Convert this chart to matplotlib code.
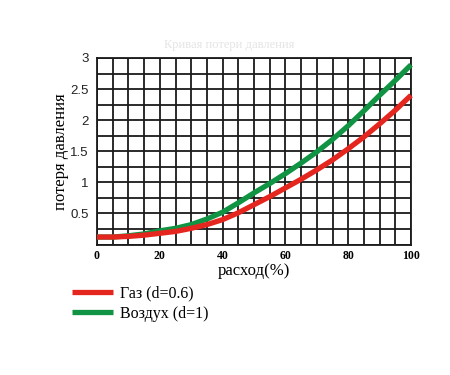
import matplotlib
matplotlib.use("Agg")
import matplotlib.pyplot as plt
from matplotlib.ticker import MultipleLocator, FixedLocator

flow = [0, 5, 10, 15, 20, 25, 30, 35, 40, 45, 50, 55, 60, 65, 70, 75, 80, 85, 90, 95, 100]
gas = [0.12, 0.12, 0.13, 0.15, 0.18, 0.21, 0.26, 0.32, 0.40, 0.51, 0.64, 0.77, 0.91, 1.05,
       1.20, 1.36, 1.54, 1.73, 1.94, 2.16, 2.40]
air = [0.12, 0.12, 0.14, 0.17, 0.22, 0.26, 0.32, 0.41, 0.52, 0.67, 0.83, 0.98, 1.14, 1.31,
       1.49, 1.69, 1.91, 2.15, 2.40, 2.64, 2.89]
x_ticks = [0, 20, 40, 60, 80, 100]
y_ticks = [0.5, 1, 1.5, 2, 2.5, 3]
labels = ["Газ (d=0.6)", "Воздух (d=1)"]

fig = plt.figure(figsize=(4.5, 3.75), dpi=100)
ax = fig.add_axes([97/450, 1-244.5/375, (411-97)/450, (244.5-58)/375])

ax.set_xlim(0, 100)
ax.set_ylim(0, 3)
ax.xaxis.set_minor_locator(MultipleLocator(5))
ax.yaxis.set_minor_locator(MultipleLocator(0.25))
ax.xaxis.set_major_locator(FixedLocator(x_ticks))
ax.yaxis.set_major_locator(FixedLocator(y_ticks))
ax.grid(True, which='both', color='#1a1a1a', linewidth=1.3)
ax.set_axisbelow(True)
ax.tick_params(which='both', length=0)
for s in ax.spines.values():
    s.set_color('#1a1a1a')
    s.set_linewidth(1.3)

l2, = ax.plot(flow, air, color='#109343', linewidth=3.8, solid_capstyle='butt', clip_on=False, zorder=3)
l1, = ax.plot(flow, gas, color='#e5261f', linewidth=3.8, solid_capstyle='butt', clip_on=False, zorder=4)

ax.set_xticklabels([str(v) for v in x_ticks], family='Liberation Serif', fontweight='bold', fontsize=8.5)
ax.set_yticklabels([f"{v:g}" for v in y_ticks], family='Liberation Sans', fontsize=9.5, color='#222222')
ax.tick_params(axis='x', pad=4)
ax.tick_params(axis='y', pad=6)

ax.set_xlabel("расход(%)", family='Liberation Serif', fontsize=12, labelpad=1)
ax.set_ylabel("потеря давления", family='Liberation Serif', fontsize=12, labelpad=1)

fig.text(0.51, 0.88, "Кривая потери давления", family='Liberation Serif', fontsize=9,
         color='#e4e4e4', ha='center', va='center')

fig.legend([l1, l2], labels, loc='upper left', bbox_to_anchor=(0.145, 0.255),
           frameon=False, prop={'family': 'Liberation Serif', 'size': 11.5},
           handlelength=2.6, handletextpad=0.4, labelspacing=0.25, borderaxespad=0)

fig.savefig("out.png", dpi=100)
